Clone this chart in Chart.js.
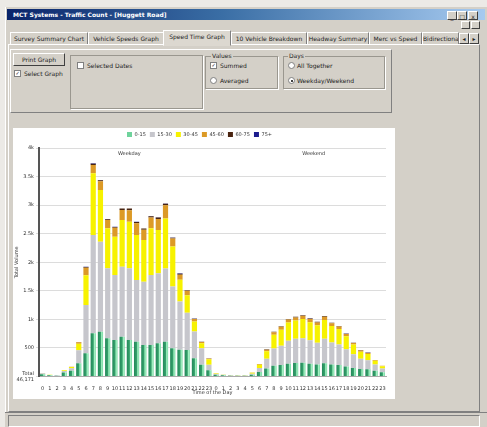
<!DOCTYPE html>
<html>
<head>
<meta charset="utf-8">
<script src="https://cdn.jsdelivr.net/npm/chart.js@4.4.1/dist/chart.umd.min.js"></script>
<style>
body{margin:0;width:487px;height:427px;overflow:hidden;background:#eceae6;font-family:Tahoma,"DejaVu Sans",sans-serif;font-size:6px;color:#222;position:relative}
.a{position:absolute}
.win{left:5px;top:7px;width:482px;height:420px;background:#d4d0c8;border-left:1px solid #fff}
.title{left:7px;top:9px;width:478px;height:11px;background:linear-gradient(to right,#0a246a,#3a6ea5 45%,#a6caf0);color:#fff;font-weight:bold;line-height:11px}
.btn{background:#d4d0c8;border:1px solid;border-color:#fff #404040 #404040 #fff;text-align:center;line-height:9px}
.tab{top:32px;height:11px;line-height:11px;text-align:center;border:1px solid;border-color:#fff #808080 transparent #fff;white-space:nowrap;overflow:hidden}
.sel{top:30px;height:14px;line-height:12px;background:#dcd8d0;z-index:2}
.panel{border:1px solid;border-color:#fff #808080 #808080 #fff}
.group{border:1px solid #9a978f;box-shadow:1px 1px 0 #fff}
.chk{width:5px;height:5px;background:#fff;border:1px solid #808080;font-size:5px;line-height:5px;text-align:center}
.rad{width:5px;height:5px;background:#fff;border:1px solid #808080;border-radius:50%}
.dot{left:1.5px;top:1.5px;width:2px;height:2px;background:#000;border-radius:50%}
#chartBox{left:13px;top:128px;width:382px;height:271px;background:#fff}
</style>
</head>
<body>
<div class="a win"></div>
<div class="a title"><span style="margin-left:6px">MCT Systems - Traffic Count - [Huggett Road]</span></div>
<div class="a btn" style="left:447px;top:11px;width:8px;height:7px">_</div>
<div class="a btn" style="left:457px;top:11px;width:8px;height:7px">□</div>
<div class="a btn" style="left:468px;top:11px;width:8px;height:7px">x</div>
<div class="a btn" style="left:461px;top:21px;width:7px;height:6px"></div>
<div class="a btn" style="left:471px;top:21px;width:7px;height:6px"></div>

<div class="a tab" style="left:10px;width:76px">Survey Summary Chart</div>
<div class="a tab" style="left:88px;width:74px">Vehicle Speeds Graph</div>
<div class="a tab sel" style="left:163px;width:66px">Speed Time Graph</div>
<div class="a tab" style="left:231px;width:74px">10 Vehicle Breakdown</div>
<div class="a tab" style="left:307px;width:60px">Headway Summary</div>
<div class="a tab" style="left:369px;width:51px">Merc vs Speed</div>
<div class="a tab" style="left:422px;width:35px">Bidirectional</div>
<div class="a btn" style="left:459px;top:33px;width:8px;height:9px">◂</div>
<div class="a btn" style="left:469px;top:33px;width:8px;height:9px">▸</div>

<div class="a panel" style="left:8px;top:44px;width:470px;height:366px"></div>
<div class="a panel" style="left:10px;top:49px;width:380px;height:62px"></div>

<div class="a btn" style="left:13px;top:53px;width:50px;height:11px;line-height:11px">Print Graph</div>
<div class="a chk" style="left:14px;top:70px">✓</div>
<div class="a" style="left:24px;top:70px">Select Graph</div>

<div class="a group" style="left:70px;top:55px;width:131px;height:52px"></div>
<div class="a chk" style="left:77px;top:62px"></div>
<div class="a" style="left:87px;top:62px">Selected Dates</div>

<div class="a group" style="left:205px;top:56px;width:71px;height:31px"></div>
<div class="a" style="left:211px;top:52px;background:#d4d0c8;padding:0 1px">Values</div>
<div class="a chk" style="left:210px;top:62px">✓</div>
<div class="a" style="left:220px;top:62px">Summed</div>
<div class="a rad" style="left:210px;top:77px"></div>
<div class="a" style="left:220px;top:77px">Averaged</div>

<div class="a group" style="left:283px;top:56px;width:100px;height:31px"></div>
<div class="a" style="left:288px;top:52px;background:#d4d0c8;padding:0 1px">Days</div>
<div class="a rad" style="left:288px;top:62px"></div>
<div class="a" style="left:297px;top:62px">All Together</div>
<div class="a rad" style="left:288px;top:77px"><div class="a dot"></div></div>
<div class="a" style="left:297px;top:77px">Weekday/Weekend</div>

<div class="a" id="chartBox"><canvas id="speed_time_chart" width="382" height="271"></canvas></div>

<div class="a" style="left:5px;top:412px;width:482px;height:15px;border-top:1px solid #808080;background:#d4d0c8"></div>
<div class="a" style="left:8px;top:415px;width:470px;height:10px;border:1px solid;border-color:#808080 #fff #fff #808080"></div>

<script>
var hourLabels = ['0', '1', '2', '3', '4', '5', '6', '7', '8', '9', '10', '11',
    '12', '13', '14', '15', '16', '17', '18', '19', '20', '21', '22', '23'];
var categories = hourLabels.concat(hourLabels);
var groupLabels = ['Weekday', 'Weekend'];
var speedBands = ['0-15', '15-30', '30-45', '45-60', '60-75', '75+'];
var yTickText = [['Total', '46,171'], '500', '1k', '1.5k', '2k', '2.5k', '3k', '3.5k', '4k'];

// weekday hours 0-23, then weekend hours 0-23
var band1 = [40, 20, 15, 70, 100, 230, 406, 756, 784, 668, 639, 697, 639, 609, 551, 551, 581, 609, 496, 467, 464, 319, 205, 110,
    30, 20, 15, 12, 12, 30, 80, 140, 190, 200, 225, 235, 240, 225, 210, 230, 210, 200, 175, 150, 130, 125, 100, 75];
var band2 = [15, 8, 6, 28, 45, 230, 846, 1720, 1575, 1225, 1137, 1225, 1254, 1079, 1108, 1225, 1225, 1283, 1080, 846, 650, 467, 290, 95,
    15, 10, 8, 6, 6, 20, 70, 170, 300, 340, 400, 425, 430, 410, 380, 430, 385, 360, 300, 240, 180, 160, 110, 65];
var band3 = [5, 3, 2, 10, 22, 115, 520, 1080, 904, 700, 671, 817, 817, 788, 729, 817, 758, 875, 700, 379, 310, 175, 85, 95,
    8, 5, 4, 3, 3, 15, 55, 130, 240, 280, 320, 320, 335, 315, 305, 330, 290, 270, 230, 170, 125, 110, 65, 40];
var band4 = [2, 1, 1, 3, 5, 25, 130, 145, 155, 145, 158, 175, 200, 205, 180, 190, 195, 230, 140, 88, 75, 45, 25, 15,
    2, 1, 1, 1, 1, 3, 12, 30, 45, 50, 52, 55, 58, 55, 52, 56, 46, 44, 38, 26, 22, 18, 12, 8];
var band5 = [0, 0, 0, 0, 0, 3, 16, 25, 18, 15, 14, 25, 29, 25, 21, 22, 24, 29, 15, 20, 12, 7, 4, 2,
    0, 0, 0, 0, 0, 0, 3, 5, 8, 8, 9, 10, 11, 10, 10, 11, 9, 8, 7, 5, 5, 4, 2, 1];
var band6 = [0, 0, 0, 0, 0, 0, 2, 5, 3, 3, 3, 4, 4, 4, 3, 4, 3, 4, 3, 6, 3, 1, 1, 1,
    0, 0, 0, 0, 0, 0, 0, 1, 1, 2, 2, 2, 2, 3, 2, 2, 2, 2, 2, 1, 1, 1, 0, 0];

//Green bars have a light stripe on their right side
function greenFill(ctx) {
    var xScale = ctx.chart.scales.x;
    if (ctx.dataIndex === undefined || !xScale) return '#2f9460';
    var cx = xScale.getPixelForValue(ctx.dataIndex);
    if (!isFinite(cx)) return '#2f9460';
    var g = ctx.chart.ctx.createLinearGradient(cx - 2.7, 0, cx + 2.7, 0);
    g.addColorStop(0, '#24875a');
    g.addColorStop(0.5, '#33a06a');
    g.addColorStop(0.72, '#a6f2c4');
    g.addColorStop(1, '#6fd39c');
    return g;
}

var legendSpace = {
    id: 'legendSpace',
    beforeInit: function (chart) {
        var fit = chart.legend.fit;
        chart.legend.fit = function () {
            fit.bind(chart.legend)();
            this.height = 20;
        };
    }
};

var groupTitles = {
    id: 'groupTitles',
    afterDraw: function (chart) {
        var c = chart.ctx, x = chart.scales.x;
        c.save();
        c.font = '5px "DejaVu Sans"';
        c.fillStyle = '#333';
        c.textAlign = 'center';
        c.fillText(groupLabels[0], x.getPixelForValue(12), chart.chartArea.top + 6);
        c.fillText(groupLabels[1], x.getPixelForValue(37.5), chart.chartArea.top + 6);
        c.restore();
    }
};

Chart.defaults.font.family = '"DejaVu Sans", sans-serif';
Chart.defaults.font.size = 5;
Chart.defaults.color = '#333';

var config = {
    type: 'bar',
    data: {
        labels: categories,
        datasets: [{
            label: speedBands[0], data: band1, backgroundColor: greenFill
        }, {
            label: speedBands[1], data: band2, backgroundColor: '#c6c6cc'
        }, {
            label: speedBands[2], data: band3, backgroundColor: '#f7f200'
        }, {
            label: speedBands[3], data: band4, backgroundColor: '#dc9a26'
        }, {
            label: speedBands[4], data: band5, backgroundColor: '#4a2410'
        }, {
            label: speedBands[5], data: band6, backgroundColor: '#1c1c8e'
        }]
    },
    options: {
        responsive: false,
        animation: false,
        barPercentage: 0.9,
        categoryPercentage: 0.8,
        layout: { padding: { right: 9 } },
        plugins: {
            legend: {
                position: 'top',
                labels: { boxWidth: 5, boxHeight: 5, padding: 4, font: { size: 5 } }
            },
            tooltip: { enabled: false }
        },
        scales: {
            x: {
                stacked: true,
                grid: { display: false },
                border: { color: '#aaa' },
                ticks: { maxRotation: 0, autoSkip: false, padding: 1, font: { size: 5 } },
                title: { display: true, text: 'Time of the Day', padding: { top: 0, bottom: 3 }, font: { size: 5 } },
                afterFit: function (scale) { scale.height = 22.5; }
            },
            y: {
                stacked: true,
                min: 0,
                max: 4000,
                grid: { color: '#dcdcdc', tickLength: 3 },
                border: { color: '#555', width: 2 },
                ticks: {
                    stepSize: 500,
                    padding: 2,
                    font: { size: 5 },
                    callback: function (v) { return yTickText[v / 500]; }
                },
                title: { display: true, text: 'Total Volume', padding: 1, font: { size: 5 } },
                afterFit: function (scale) { scale.width = 26; }
            }
        }
    },
    plugins: [legendSpace, groupTitles]
};

var chart = new Chart(document.getElementById('speed_time_chart').getContext('2d'), config);
</script>
</body>
</html>
